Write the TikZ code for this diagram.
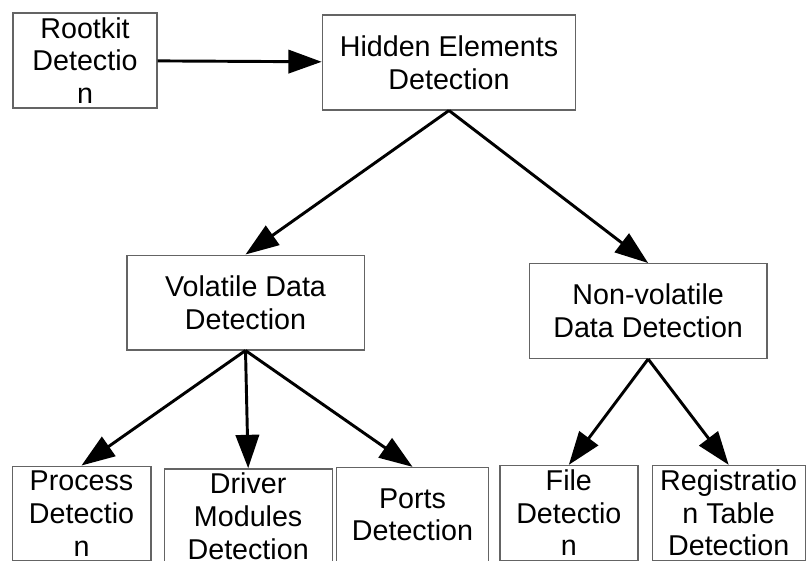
\documentclass[tikz,border=0pt]{standalone}
\usepackage{fontspec}
\setmainfont{Liberation Sans}
\usetikzlibrary{arrows.meta, positioning}
\definecolor{boxgray}{RGB}{100,100,100}

\begin{document}
\begin{tikzpicture}[
    x=0.75pt, y=-0.75pt,
    box/.style={rectangle, draw=boxgray, line width=1pt, inner sep=1pt,
                minimum height=71pt, align=center, font=\fontsize{21.5}{24.5}\selectfont},
    arr/.style={-{Triangle[length=25pt, width=17.5pt]}, line width=2.2pt, black}
]
\useasboundingbox (0,0) rectangle (806,560);

% Top row
\node[box, minimum width=108pt] (rootkit) at (85,60.5) {Rootkit\\Detectio\\n};
\node[box, minimum width=190pt, right=123pt of rootkit, yshift=-1.5pt] (hidden) {Hidden Elements\\Detection};

% Middle row
\node[box, minimum width=178pt] (volatile) at (245.5,302.5) {Volatile Data\\Detection};
\node[box, minimum width=178pt, right=123pt of volatile, yshift=-6.4pt] (nonvol) {Non-volatile\\Data Detection};

% Bottom row
\node[box, minimum width=104pt] (process) at (81.5,513.5) {Process\\Detectio\\n};
\node[box, minimum width=126pt, right=9pt of process, yshift=-2pt] (driver) {Driver\\Modules\\Detection};
\node[box, minimum width=114pt, right=2.25pt of driver, yshift=1pt] (ports) {Ports\\Detection};
\node[box, minimum width=103.5pt, right=7.5pt of ports, yshift=1.5pt] (file) {File\\Detectio\\n};
\node[box, minimum width=114.75pt, right=9.75pt of file] (registry) {Registratio\\n Table\\Detection};

% Arrows
\draw[arr] (rootkit) -- (hidden);
\draw[arr] (hidden.south) -- (volatile.north);
\draw[arr] (hidden.south) -- (nonvol.north);

\draw[arr] (volatile.south) -- (process.north);
\draw[arr] (volatile.south) -- (driver.north);
\draw[arr] (volatile.south) -- (ports.north);

\draw[arr] (nonvol.south) -- (file.north);
\draw[arr] (nonvol.south) -- (registry.north);

\end{tikzpicture}
\end{document}
